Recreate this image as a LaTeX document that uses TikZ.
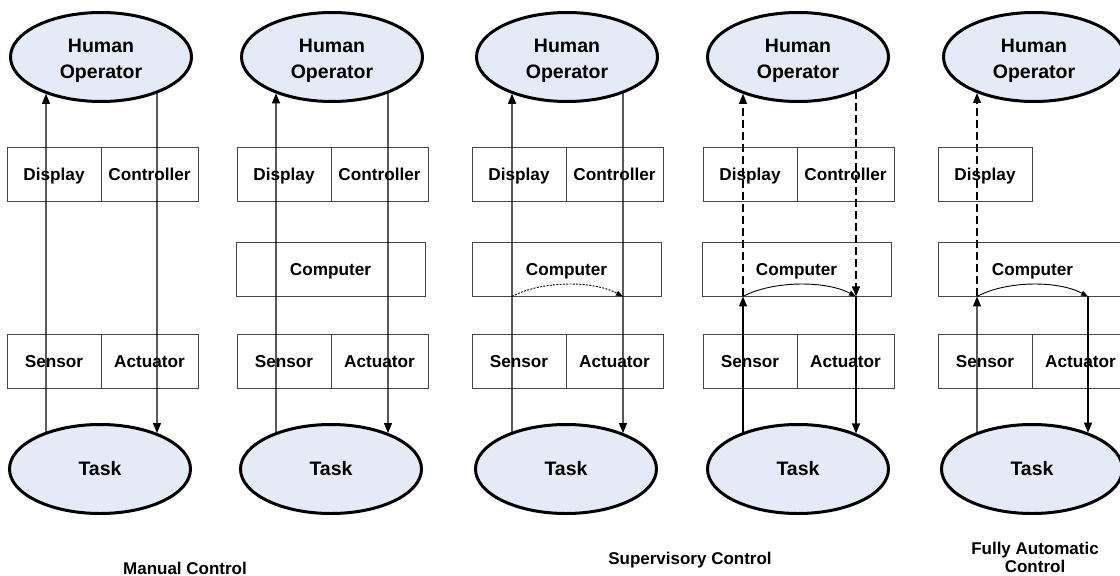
\documentclass[tikz,border=0pt]{standalone}
\usepackage{fontspec}
\setmainfont{Liberation Sans}
\usetikzlibrary{shapes.geometric,arrows.meta,intersections}

\definecolor{agentfill}{RGB}{229,235,246}
\definecolor{boxline}{RGB}{70,70,70}

% border points of an ellipse node on the vertical line x = #2,
% named #3-1 (upper) and #3-2 (lower)
\newcommand\rimpoints[3]{%
  \path[name path=probe] (#2,-20) -- (#2,600);
  \path[name intersections={of=#1 and probe, sort by=probe, name=#3}];
}
% two-line operator label, set a little low in its ellipse
\newcommand\operatortext{\rule{0pt}{21pt}Human\\Operator}

\tikzset{
  x=1pt, y=-1pt,
  agent/.style={ellipse, draw=black, line width=3pt, fill=agentfill,
    minimum width=181pt, minimum height=89pt, inner sep=0pt, align=center,
    font=\fontsize{19.5}{25.5}\selectfont\bfseries},
  unit/.style={rectangle, draw=boxline, line width=0.9pt, minimum height=54pt,
    inner sep=0pt, text height=12.5pt, text depth=0pt,
    font=\fontsize{17.2}{20}\selectfont\bfseries},
  halfL/.style={unit, minimum width=94pt},
  halfR/.style={unit, minimum width=97pt},
  whole/.style={unit, minimum width=189pt},
  flow/.style={line width=1.2pt, -{Triangle[length=10pt,width=8pt]}},
  into/.style={shorten >=1.4pt},
  relay/.style={flow, dash pattern=on 8pt off 4pt},
  loopback/.style={line width=0.9pt, -{Triangle[length=7pt,width=5pt]}},
  caption/.style={anchor=base, align=center,
    font=\fontsize{17}{18}\selectfont\bfseries},
}

\begin{document}
\begin{tikzpicture}
\clip (0,0) rectangle (1120,576);
\fill[white] (0,0) rectangle (1120,576);

% ---------- Manual control ----------
\node[agent, name path global=op1] (op1) at (101,57) {\operatortext};
\node[agent, name path global=task1] (task1) at (100,469) {Task};
\node[halfL] (disp1) at (54,174) {Display};
\node[halfR] (ctrl1) at (149.5,174) {Controller};
\node[halfL] (sens1) at (54,361) {Sensor};
\node[halfR] (act1) at (149.5,361) {Actuator};
\rimpoints{op1}{46}{o1l}
\rimpoints{op1}{157}{o1r}
\rimpoints{task1}{46}{t1l}
\rimpoints{task1}{157}{t1r}
\draw[flow, into] (t1l-1) -- (o1l-2);
\draw[flow, into] (o1r-2) -- (t1r-1);

% ---------- Manual control with computer ----------
\node[agent, name path global=op2] (op2) at (332,57) {\operatortext};
\node[agent, name path global=task2] (task2) at (331,469) {Task};
\node[halfL] (disp2) at (284,174) {Display};
\node[halfR] (ctrl2) at (379.5,174) {Controller};
\node[whole] (comp2) at (330.5,269) {Computer};
\node[halfL] (sens2) at (284,361) {Sensor};
\node[halfR] (act2) at (379.5,361) {Actuator};
\rimpoints{op2}{276}{o2l}
\rimpoints{op2}{388}{o2r}
\rimpoints{task2}{276}{t2l}
\rimpoints{task2}{388}{t2r}
\draw[flow, into] (t2l-1) -- (o2l-2);
\draw[flow, into] (o2r-2) -- (t2r-1);

% ---------- Supervisory control, computer aiding ----------
\node[agent, name path global=op3] (op3) at (567,57) {\operatortext};
\node[agent, name path global=task3] (task3) at (566,469) {Task};
\node[halfL] (disp3) at (519,174) {Display};
\node[halfR] (ctrl3) at (614.5,174) {Controller};
\node[whole] (comp3) at (566.5,269) {Computer};
\node[halfL] (sens3) at (519,361) {Sensor};
\node[halfR] (act3) at (614.5,361) {Actuator};
\rimpoints{op3}{512}{o3l}
\rimpoints{op3}{623}{o3r}
\rimpoints{task3}{512}{t3l}
\rimpoints{task3}{623}{t3r}
\coordinate (s3l) at (o3l-2 |- comp3.south);
\coordinate (s3r) at (o3r-2 |- comp3.south);
\draw[flow, into] (t3l-1) -- (o3l-2);
\draw[flow, into] (o3r-2) -- (t3r-1);
\draw[loopback, dash pattern=on 2pt off 1.3pt]
  (s3l) .. controls +(30,-16) and +(-30,-16) .. (s3r);

% ---------- Supervisory control, computer in the loop ----------
\node[agent, name path global=op4] (op4) at (798,57) {\operatortext};
\node[agent, name path global=task4] (task4) at (798,469) {Task};
\node[halfL] (disp4) at (750,174) {Display};
\node[halfR] (ctrl4) at (845.5,174) {Controller};
\node[whole] (comp4) at (796.5,269) {Computer};
\node[halfL] (sens4) at (750,361) {Sensor};
\node[halfR] (act4) at (845.5,361) {Actuator};
\rimpoints{op4}{743}{o4l}
\rimpoints{op4}{856}{o4r}
\rimpoints{task4}{743}{t4l}
\rimpoints{task4}{856}{t4r}
\coordinate (s4l) at (o4l-2 |- comp4.south);
\coordinate (s4r) at (o4r-2 |- comp4.south);
\draw[flow] (t4l-1) -- (s4l);
\draw[relay, into] (s4l) -- (o4l-2);
\draw[relay] (o4r-2) -- (s4r);
\draw[flow, into] (s4r) -- (t4r-1);
\draw[loopback] (s4l) .. controls +(30,-16) and +(-30,-16) .. (s4r);

% ---------- Fully automatic control ----------
\node[agent, name path global=op5] (op5) at (1034,57) {\operatortext};
\node[agent, name path global=task5] (task5) at (1032,469) {Task};
\node[halfL] (disp5) at (985,174) {Display};
\node[whole] (comp5) at (1032.5,269) {Computer};
\node[halfL] (sens5) at (985,361) {Sensor};
\node[halfR] (act5) at (1080.5,361) {Actuator};
\rimpoints{op5}{977}{o5l}
\rimpoints{task5}{977}{t5l}
\rimpoints{task5}{1088}{t5r}
\coordinate (s5l) at (o5l-2 |- comp5.south);
\coordinate (s5r) at (t5r-1 |- comp5.south);
\draw[flow] (t5l-1) -- (s5l);
\draw[relay, into] (s5l) -- (o5l-2);
\draw[loopback] (s5l) .. controls +(30,-16) and +(-30,-16) .. (s5r);
\draw[flow, into] (s5r) -- (t5r-1);

% ---------- captions ----------
\node[caption] (capManual) at (185,574.5) {Manual Control};
\node[caption] (capSuper) at (690,564) {Supervisory Control};
\node[caption] (capAuto) at (1035,572) {Fully Automatic\\Control};
\end{tikzpicture}
\end{document}
